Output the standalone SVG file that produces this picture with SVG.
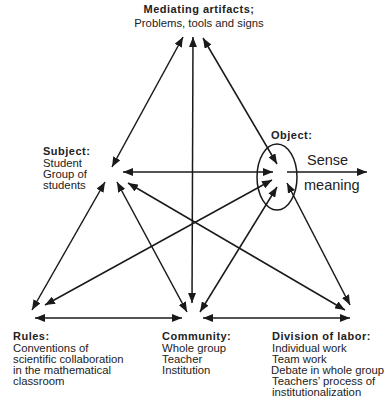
<svg xmlns="http://www.w3.org/2000/svg" width="386" height="403" viewBox="0 0 386 403">
<style>
.b{font-family:"Liberation Sans",Arial,sans-serif;font-size:11px;font-weight:bold;letter-spacing:0.5px;fill:#222}
.n{font-family:"Liberation Sans",Arial,sans-serif;font-size:11.3px;fill:#222}
.s{font-family:"Liberation Sans",Arial,sans-serif;font-size:14.5px;fill:#222}
.c line{stroke:#1a1a1a;stroke-width:1.5;marker-start:url(#ah);marker-end:url(#ah)}
</style>
<defs>
<marker id="ah" viewBox="0 0 10 8" refX="10" refY="4" markerWidth="10" markerHeight="8" markerUnits="userSpaceOnUse" orient="auto-start-reverse">
<path d="M0,0 L10,4 L0,8 Z" fill="#1a1a1a"/>
</marker>
</defs>
<rect width="386" height="403" fill="#fff"/>
<g class="c" id="connectors">
<line x1="183" y1="37" x2="112" y2="167"/>
<line x1="193" y1="37" x2="192" y2="303"/>
<line x1="203" y1="38" x2="277" y2="164"/>
<line x1="123" y1="172" x2="273" y2="172"/>
<line x1="287" y1="172" x2="367" y2="172" style="marker-start:none"/>
<line x1="105" y1="182" x2="32" y2="310"/>
<line x1="117" y1="182" x2="187" y2="312"/>
<line x1="128" y1="183" x2="345" y2="310"/>
<line x1="272" y1="180" x2="45" y2="305"/>
<line x1="277" y1="187" x2="200" y2="312"/>
<line x1="287" y1="183" x2="350" y2="305"/>
<line x1="35" y1="318" x2="182" y2="318"/>
<line x1="203" y1="318" x2="350" y2="318"/>
<ellipse cx="277" cy="177" rx="20" ry="33" fill="none" stroke="#1a1a1a" stroke-width="1.5"/>
</g>
<g id="mediating">
<text class="b" x="199" y="13" text-anchor="middle">Mediating artifacts;</text>
<text class="n" x="199" y="27" text-anchor="middle">Problems, tools and signs</text>
</g>
<g id="subject">
<text class="b" x="43" y="155">Subject:</text>
<text class="n" x="43" y="167">Student</text>
<text class="n" x="43" y="178">Group of</text>
<text class="n" x="43" y="189">students</text>
</g>
<g id="object">
<text class="b" x="271" y="139">Object:</text>
<text class="s" x="307" y="165">Sense</text>
<text class="s" x="304" y="190">meaning</text>
</g>
<g id="rules">
<text class="b" x="13" y="340">Rules:</text>
<text class="n" x="13" y="352">Conventions of</text>
<text class="n" x="13" y="363">scientific collaboration</text>
<text class="n" x="13" y="374">in the mathematical</text>
<text class="n" x="13" y="385">classroom</text>
</g>
<g id="community">
<text class="b" x="162" y="340">Community:</text>
<text class="n" x="162" y="352">Whole group</text>
<text class="n" x="162" y="363">Teacher</text>
<text class="n" x="162" y="374">Institution</text>
</g>
<g id="division">
<text class="b" x="272" y="340">Division of labor:</text>
<text class="n" x="272" y="352">Individual work</text>
<text class="n" x="272" y="363">Team work</text>
<text class="n" x="271" y="374">Debate in whole group</text>
<text class="n" x="272" y="385">Teachers’ process of</text>
<text class="n" x="272" y="396">institutionalization</text>
</g>
</svg>
